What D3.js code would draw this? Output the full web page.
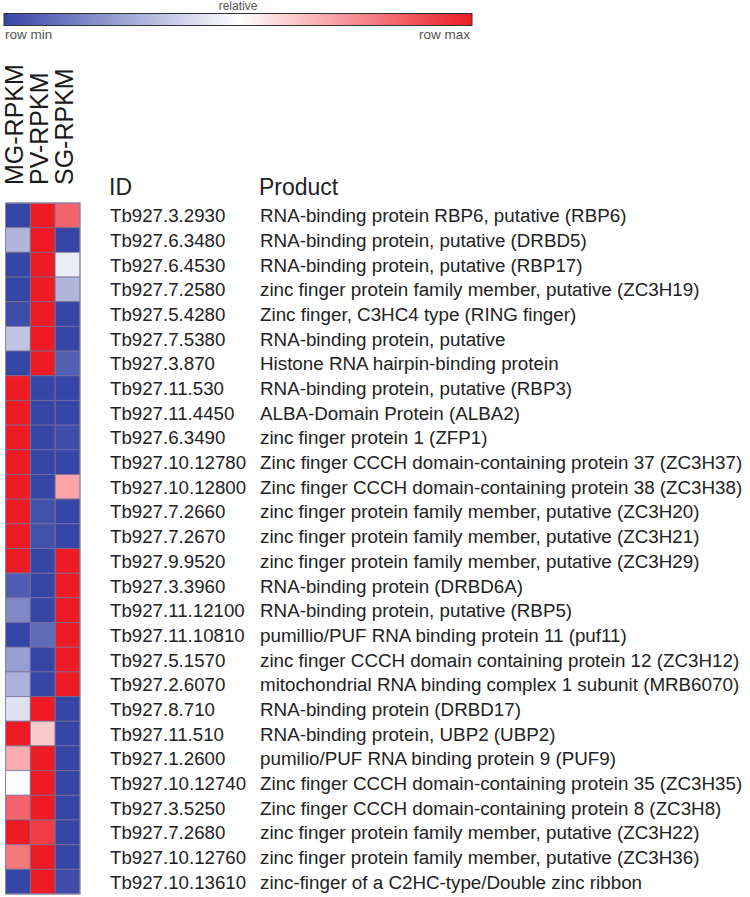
<!DOCTYPE html>
<html>
<head>
<meta charset="utf-8">
<script src="https://cdn.jsdelivr.net/npm/d3@7"></script>
<style>
  body { margin: 0; background: #fff; }
  text { font-family: "Liberation Sans", Arial, sans-serif; fill: #222; }
</style>
</head>
<body>
<div id="chart"></div>
<script>
// samples (columns of the heatmap)
const samples = ["MG-RPKM", "PV-RPKM", "SG-RPKM"];

const geneIds = [
  "Tb927.3.2930", "Tb927.6.3480", "Tb927.6.4530", "Tb927.7.2580", "Tb927.5.4280",
  "Tb927.7.5380", "Tb927.3.870", "Tb927.11.530", "Tb927.11.4450", "Tb927.6.3490",
  "Tb927.10.12780", "Tb927.10.12800", "Tb927.7.2660", "Tb927.7.2670", "Tb927.9.9520",
  "Tb927.3.3960", "Tb927.11.12100", "Tb927.11.10810", "Tb927.5.1570", "Tb927.2.6070",
  "Tb927.8.710", "Tb927.11.510", "Tb927.1.2600", "Tb927.10.12740", "Tb927.3.5250",
  "Tb927.7.2680", "Tb927.10.12760", "Tb927.10.13610"
];

const products = [
  "RNA-binding protein RBP6, putative (RBP6)",
  "RNA-binding protein, putative (DRBD5)",
  "RNA-binding protein, putative (RBP17)",
  "zinc finger protein family member, putative (ZC3H19)",
  "Zinc finger, C3HC4 type (RING finger)",
  "RNA-binding protein, putative",
  "Histone RNA hairpin-binding protein",
  "RNA-binding protein, putative (RBP3)",
  "ALBA-Domain Protein (ALBA2)",
  "zinc finger protein 1 (ZFP1)",
  "Zinc finger CCCH domain-containing protein 37 (ZC3H37)",
  "Zinc finger CCCH domain-containing protein 38 (ZC3H38)",
  "zinc finger protein family member, putative (ZC3H20)",
  "zinc finger protein family member, putative (ZC3H21)",
  "zinc finger protein family member, putative (ZC3H29)",
  "RNA-binding protein (DRBD6A)",
  "RNA-binding protein, putative (RBP5)",
  "pumillio/PUF RNA binding protein 11 (puf11)",
  "zinc finger CCCH domain containing protein 12 (ZC3H12)",
  "mitochondrial RNA binding complex 1 subunit (MRB6070)",
  "RNA-binding protein (DRBD17)",
  "RNA-binding protein, UBP2 (UBP2)",
  "pumilio/PUF RNA binding protein 9 (PUF9)",
  "Zinc finger CCCH domain-containing protein 35 (ZC3H35)",
  "Zinc finger CCCH domain-containing protein 8 (ZC3H8)",
  "zinc finger protein family member, putative (ZC3H22)",
  "zinc finger protein family member, putative (ZC3H36)",
  "zinc-finger of a C2HC-type/Double zinc ribbon"
];

// row-relative values (0 = row min, 1 = row max)
const mgValues = [0, 0.30, 0, 0, 0.02, 0.34, 0, 1, 1, 1, 1, 1, 1, 1, 1,
                  0.06, 0.18, 0, 0.24, 0.29, 0.42, 1, 0.68, 0.5, 0.84, 1, 0.8, 0];
const pvValues = [1, 1, 1, 1, 1, 1, 1, 0, 0, 0, 0, 0, 0.03, 0.03, 0,
                  0, 0, 0.1, 0, 0, 1, 0.62, 1, 1, 1, 0.93, 1, 1];
const sgValues = [0.84, 0, 0.45, 0.3, 0, 0, 0.07, 0, 0, 0.02, 0, 0.7, 0, 0, 1,
                  1, 1, 1, 1, 1, 0, 0, 0, 0, 0, 0, 0, 0.02];

const legendLabels = { title: "relative", min: "row min", max: "row max" };

const WIDTH = 750, HEIGHT = 897;
const svg = d3.select("#chart").append("svg")
  .attr("width", WIDTH).attr("height", HEIGHT);

const color = d3.scaleLinear()
  .domain([0, 0.5, 1])
  .range(["#3646a6", "#ffffff", "#ed1c24"]);

// ---- legend bar
const legX = d3.scaleLinear().domain([0, 1]).range([4, 472]);
const grad = svg.append("defs").append("linearGradient").attr("id", "leg");
d3.range(0, 1.001, 0.1).forEach(t => {
  grad.append("stop").attr("offset", t).attr("stop-color", color(t));
});
svg.append("rect")
  .attr("x", legX(0)).attr("y", 13.5)
  .attr("width", legX(1) - legX(0)).attr("height", 12)
  .attr("fill", "url(#leg)").attr("stroke", "#333").attr("stroke-width", 1);
svg.append("text").attr("x", legX(0.5)).attr("y", 10)
  .attr("text-anchor", "middle").style("font-size", "12px").style("fill", "#555")
  .text(legendLabels.title);
svg.append("text").attr("x", legX(0) + 1).attr("y", 39)
  .style("font-size", "13.5px").style("fill", "#555").text(legendLabels.min);
svg.append("text").attr("x", legX(1) - 2).attr("y", 39)
  .attr("text-anchor", "end").style("font-size", "13.5px").style("fill", "#555")
  .text(legendLabels.max);

// ---- heatmap
const x = d3.scaleBand().domain(samples).range([5.5, 80]);
const y = d3.scaleBand().domain(geneIds).range([203, 894]);

const cells = [];
geneIds.forEach((id, i) => {
  [mgValues, pvValues, sgValues].forEach((vals, j) => {
    cells.push({ id, sample: samples[j], v: vals[i] });
  });
});

const g = svg.append("g");
g.selectAll("rect.cell")
  .data(cells)
  .enter()
  .append("rect")
    .attr("class", "cell")
    .attr("x", d => x(d.sample))
    .attr("y", d => y(d.id))
    .attr("width", x.bandwidth())
    .attr("height", y.bandwidth())
    .attr("fill", d => color(d.v))
    .attr("stroke", "rgba(120,110,150,0.75)")
    .attr("stroke-width", 1);

g.append("rect")
  .attr("x", 5.5).attr("y", 203)
  .attr("width", 74.5).attr("height", 691)
  .attr("fill", "none").attr("stroke", "#8a86a6").attr("stroke-width", 1);

// column headers (rotated)
svg.selectAll("text.col")
  .data(samples)
  .enter()
  .append("text")
    .attr("class", "col")
    .attr("transform", d => "translate(" + (x(d) + x.bandwidth() / 2 + 5.5) + ",185) rotate(-90)")
    .style("font-size", "25px")
    .style("fill", "#1a1a1a")
    .text(d => d);

// table headers
svg.append("text").attr("x", 109).attr("y", 195).style("font-size", "23px").text("ID");
svg.append("text").attr("x", 259).attr("y", 195).style("font-size", "23px").text("Product");

// row labels
svg.selectAll("text.gid")
  .data(geneIds)
  .enter()
  .append("text")
    .attr("class", "gid")
    .attr("x", 110)
    .attr("y", d => y(d) + y.bandwidth() / 2 + 7)
    .style("font-size", "18.7px")
    .text(d => d);

svg.selectAll("text.prod")
  .data(products)
  .enter()
  .append("text")
    .attr("class", "prod")
    .attr("x", 260)
    .attr("y", (d, i) => y(geneIds[i]) + y.bandwidth() / 2 + 7)
    .style("font-size", "18.8px")
    .text(d => d);
</script>
</body>
</html>
